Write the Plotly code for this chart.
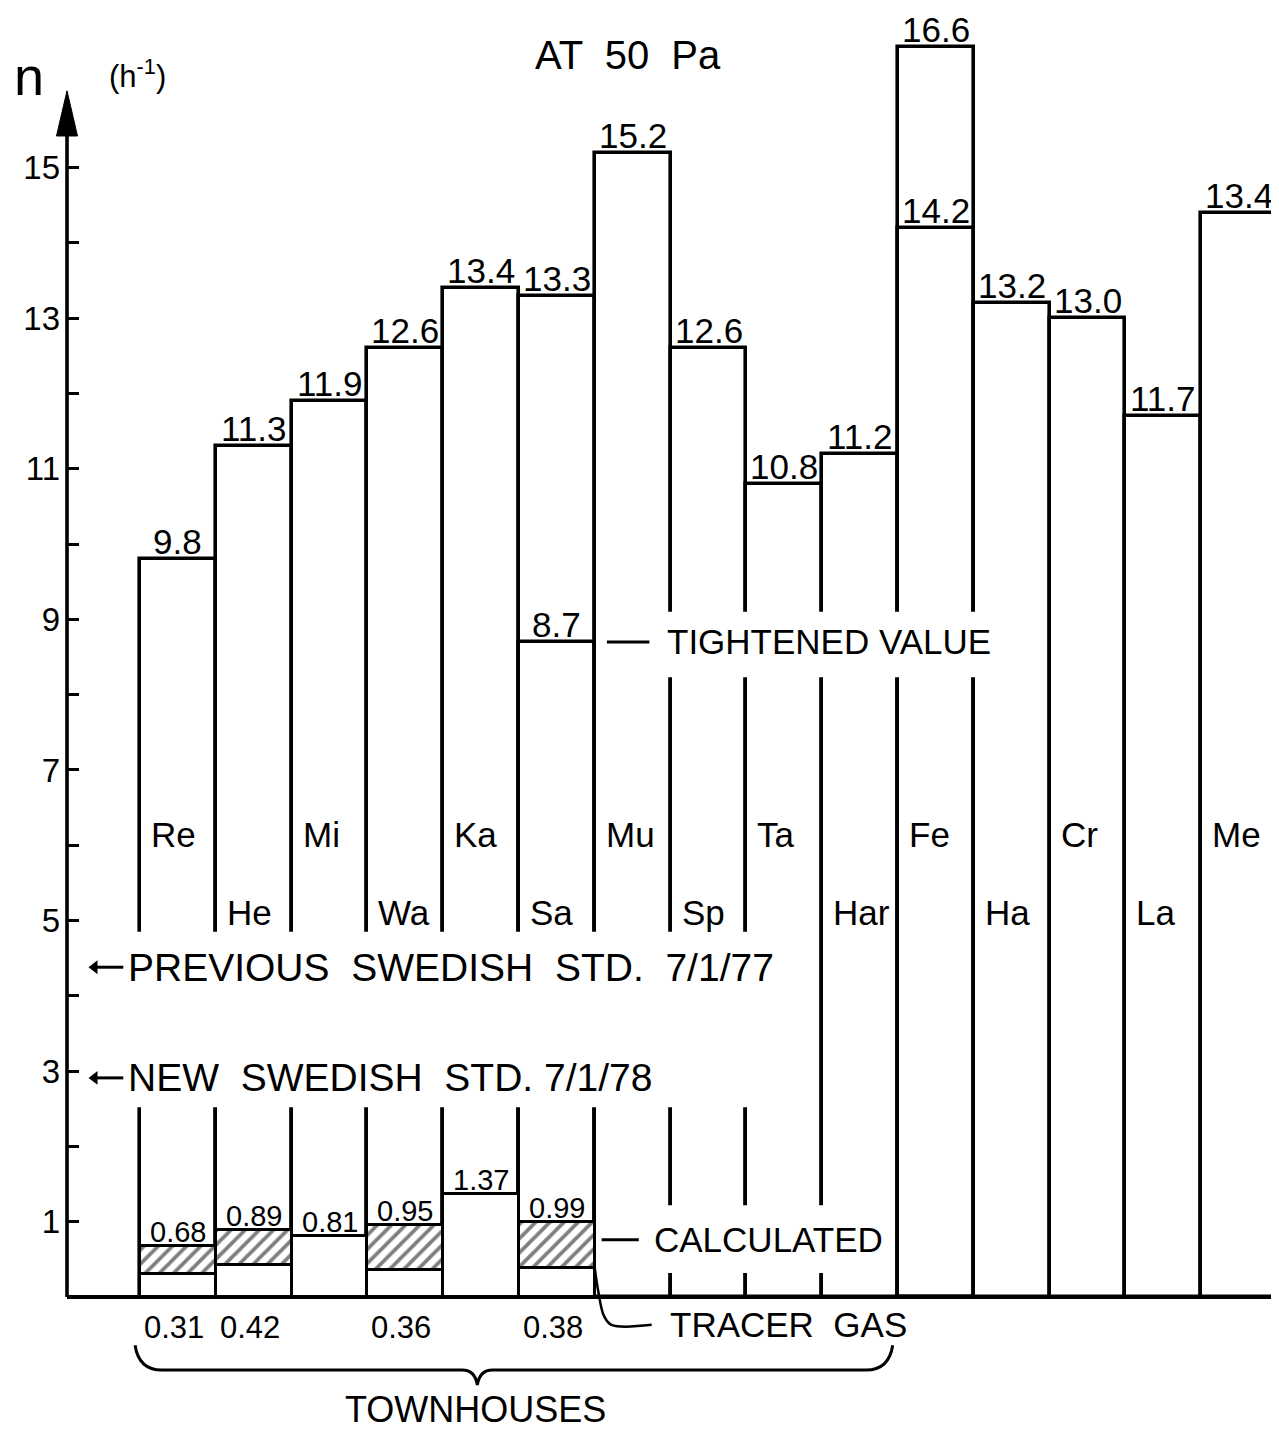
import plotly.graph_objects as go

# ---------------- data ----------------
houses = ["Re", "He", "Mi", "Wa", "Ka", "Sa", "Mu", "Sp", "Ta", "Har",
          "Fe", "Ha", "Cr", "La", "Me"]
n50_bar = [9.8, 11.3, 11.9, 12.6, 13.4, 13.3, 15.2, 12.6, 10.8, 11.2,
           16.6, 13.2, 13.0, 11.7, 14.4]
n50_label = ["9.8", "11.3", "11.9", "12.6", "13.4", "13.3", "15.2", "12.6", "10.8", "11.2",
             "16.6", "13.2", "13.0", "11.7", "13.4"]
tightened = [None, None, None, None, None, 8.7, None, None, None, None,
             14.2, None, None, None, None]
calculated = [0.68, 0.89, 0.81, 0.95, 1.37, 0.99]
tracer = [0.31, 0.42, None, 0.36, None, 0.38]
name_row = [0, 1, 0, 1, 0, 1, 0, 1, 0, 1, 0, 1, 0, 1, 0]
ytick_vals = list(range(1, 16))
ytick_text = [str(v) if v % 2 == 1 else "" for v in ytick_vals]

previous_std = "PREVIOUS  SWEDISH  STD.  7/1/77"
new_std = "NEW  SWEDISH  STD. 7/1/78"
std_levels = [4.38, 2.91]

# ---------------- styling ----------------
FONT = "Liberation Sans"
LW = 3.6
XMIN, XMAX = -1.463, 14.526
YMIN, YMAX = -1.78, 17.12
idx = list(range(len(houses)))

fig = go.Figure()

bar_style = dict(color="white", line=dict(color="black", width=LW))
fig.add_trace(go.Bar(x=idx, y=n50_bar, width=1, marker=bar_style, hoverinfo="skip"))

tx = [i for i, v in enumerate(tightened) if v is not None]
fig.add_trace(go.Bar(x=tx, y=[tightened[i] for i in tx], width=1,
                     marker=dict(color="rgba(0,0,0,0)", line=dict(color="black", width=LW)),
                     hoverinfo="skip"))

small = list(range(len(calculated)))
plain = [i for i in small if tracer[i] is None]
hatched = [i for i in small if tracer[i] is not None]
small_style = dict(color="white", line=dict(color="black", width=3))
fig.add_trace(go.Bar(x=plain, y=[calculated[i] for i in plain], width=1,
                     marker=small_style, hoverinfo="skip"))
fig.add_trace(go.Bar(x=hatched, y=[tracer[i] for i in hatched], width=1,
                     marker=small_style, hoverinfo="skip"))
fig.add_trace(go.Bar(x=hatched, y=[calculated[i] - tracer[i] for i in hatched],
                     base=[tracer[i] for i in hatched], width=1,
                     marker=dict(color="white", line=dict(color="black", width=3),
                                 pattern=dict(shape="/", fgcolor="black", bgcolor="white",
                                              size=10, solidity=0.38)),
                     hoverinfo="skip"))

# leader lines
sa = houses.index("Sa")
edge = sa + 0.5
line_style = dict(color="black", width=3)
fig.add_trace(go.Scatter(x=[edge + 0.16, edge + 0.72], y=[tightened[sa]] * 2,
                         mode="lines", line=line_style, hoverinfo="skip"))
fig.add_trace(go.Scatter(x=[edge + 0.09, edge + 0.58], y=[0.76, 0.76],
                         mode="lines", line=line_style, hoverinfo="skip"))
fig.add_trace(go.Scatter(x=[edge, edge + 0.05, edge + 0.12, edge + 0.22, edge + 0.75],
                         y=[tracer[sa], 0.05, -0.25, -0.37, -0.37],
                         mode="lines", line=dict(color="black", width=2.5, shape="spline"),
                         hoverinfo="skip"))
# pointers to the swedish standards
for yy in std_levels:
    fig.add_trace(go.Scatter(x=[-1.12, -0.72], y=[yy, yy], mode="lines",
                             line=dict(color="black", width=3), hoverinfo="skip"))
    fig.add_trace(go.Scatter(x=[-1.10], y=[yy], mode="markers",
                             marker=dict(symbol="triangle-left", size=12, color="black"),
                             hoverinfo="skip"))

annotations = []
def txt(x, y, t, size=36, xanchor="center", yanchor="middle", xref="x", yref="y", **kw):
    annotations.append(dict(x=x, y=y, text=t, xref=xref, yref=yref, showarrow=False,
                            xanchor=xanchor, yanchor=yanchor,
                            font=dict(family=FONT, size=size, color="black"), **kw))

for i, (h, lab) in enumerate(zip(n50_bar, n50_label)):
    txt(i, h, lab, size=35, yanchor="bottom", yshift=-4)
for i in tx:
    txt(i, tightened[i], str(tightened[i]), size=35, yanchor="bottom", yshift=-4)
for i, name in enumerate(houses):
    txt(i - 0.5, 6.14 if name_row[i] == 0 else 5.11, name, size=35, xanchor="left", xshift=9)
for i in small:
    txt(i, calculated[i], f"{calculated[i]:.2f}", size=29, yanchor="bottom", yshift=-4)
for i in hatched:
    txt(i, -0.41, f"{tracer[i]:.2f}", size=31, xshift=-4)

txt(5.94, 16.49, "AT  50  Pa", size=40)
txt(-0.031, 16.22, "n", size=54, xref="paper")
txt(-0.53, 16.24, "(h<sup>-1</sup>)", size=31)
txt(edge + 0.93, tightened[sa], "TIGHTENED VALUE", size=35, xanchor="left")
txt(edge + 0.75, 0.76, "CALCULATED", size=35, xanchor="left")
txt(edge + 0.96, -0.37, "TRACER  GAS", size=35, xanchor="left")
txt(3.93, -1.50, "TOWNHOUSES", size=36)
txt(-0.68, std_levels[0], previous_std, size=39, xanchor="left")
txt(-0.68, std_levels[1], new_std, size=39, xanchor="left")

shapes = []
# y axis with arrow
shapes.append(dict(type="line", xref="paper", yref="y", x0=0, x1=0, y0=0, y1=15.5,
                   line=dict(color="black", width=LW)))
hw = 10.5 / 1212
shapes.append(dict(type="path", xref="paper", yref="y",
                   path=f"M {-hw},15.42 L {hw},15.42 L 0,16.02 Z",
                   fillcolor="black", line=dict(color="black", width=1)))
# gaps in the bar outlines behind the lettering
for x0, x1, y0, y1 in [(-0.70, 7.70, 2.52, 4.85), (6.30, 10.70, 8.23, 9.10),
                       (6.30, 9.30, 0.32, 1.22)]:
    shapes.append(dict(type="rect", xref="x", yref="y", x0=x0, x1=x1, y0=y0, y1=y1,
                       fillcolor="white", line=dict(width=0), layer="above"))
# brace under townhouses
L, R, C = -0.565, 9.43, 3.95
yt, yh, yc = -0.64, -0.97, -1.17
shapes.append(dict(type="path", xref="x", yref="y",
                   path=(f"M {L},{yt} Q {L + 0.05},{yh} {L + 0.35},{yh} L {C - 0.2},{yh} "
                         f"Q {C - 0.03},{yh} {C},{yc} Q {C + 0.03},{yh} {C + 0.2},{yh} "
                         f"L {R - 0.35},{yh} Q {R - 0.05},{yh} {R},{yt}"),
                   line=dict(color="black", width=3)))

fig.update_layout(
    width=1271, height=1423,
    margin=dict(l=59, r=0, t=0, b=0),
    paper_bgcolor="white", plot_bgcolor="white",
    showlegend=False, barmode="overlay", bargap=0,
    xaxis=dict(range=[XMIN, XMAX], visible=False),
    yaxis=dict(range=[YMIN, YMAX], tickvals=ytick_vals, ticktext=ytick_text,
               ticks="inside", ticklen=12, tickwidth=3, tickcolor="black",
               ticklabelstandoff=6,
               tickfont=dict(family=FONT, size=33, color="black"),
               showgrid=False, showline=False, zeroline=True,
               zerolinecolor="black", zerolinewidth=LW),
    annotations=annotations, shapes=shapes,
)

fig.write_html("out.html")
